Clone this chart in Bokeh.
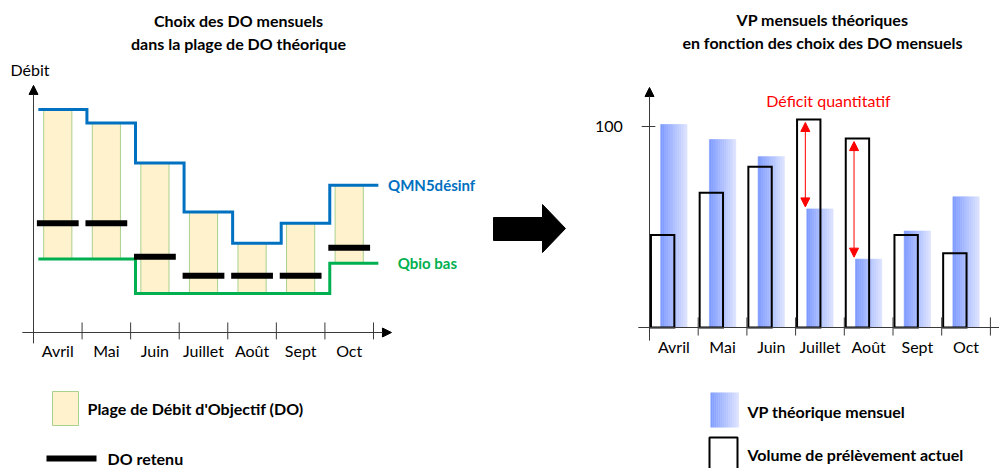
import numpy as np
from bokeh.plotting import figure
from bokeh.models import Range1d, ColumnDataSource, Arrow, NormalHead
from bokeh.core.properties import value
from bokeh.embed import file_html
from bokeh.resources import INLINE

# ---------------- data ----------------
months = ["Avril", "Mai", "Juin", "Juillet", "Août", "Sept", "Oct"]
qmn5_desinf = [100, 94, 76, 54, 40, 49, 66]          # upper bound of DO range
qbio_bas = [33, 33, 17.5, 17.5, 17.5, 17.5, 31]      # lower bound of DO range
do_retenu = [49, 49, 34, 25.5, 25.5, 25.5, 38]       # chosen monthly DO
vp_theorique = [101, 93.5, 85, 59, 34, 48, 65]       # theoretical monthly VP
volume_actuel = [46, 67, 80, 103.5, 94, 46, 37]      # current withdrawal volume
right_y_ticks = [100]
right_y_tick_labels = ["100"]

# ---------------- layout constants ----------------
W, H = 999, 468
OX, OY = 0, 0
L_X0, L_DX, L_Y0, L_DY = 33, 48.57, 332, 2.23     # left chart (page px)
R_X0, R_DX, R_Y0, R_DY = 649, 48.7, 327, 2.01     # right chart (page px)
FONT = value("Lato")

p = figure(width=W, height=H, output_backend="svg", toolbar_location=None,
           x_axis_type=None, y_axis_type=None, min_border=0,
           x_range=Range1d((OX - L_X0) / L_DX, (OX + W - L_X0) / L_DX),
           y_range=Range1d((L_Y0 - (OY + H)) / L_DY, (L_Y0 - OY) / L_DY))
p.outline_line_color = None
p.extra_x_ranges = {"rx": Range1d((OX - R_X0) / R_DX, (OX + W - R_X0) / R_DX),
                    "px": Range1d(OX, OX + W)}
p.extra_y_ranges = {"ry": Range1d((R_Y0 - (OY + H)) / R_DY, (R_Y0 - OY) / R_DY),
                    "px": Range1d(OY + H, OY)}

AX = "#3a3a3a"


def txt(x, y, s, size="16px", bold=False, color="black", align="left"):
    p.text(x=[x], y=[y], text=[s], x_range_name="px", y_range_name="px",
           text_font=FONT, text_font_size=size,
           text_font_style="bold" if bold else "normal",
           text_color=color, text_align=align, text_baseline="middle")


n = len(months)
centers = [i + 0.5 for i in range(n)]

# ================= LEFT CHART =================
p.vbar(x=centers, width=0.58, bottom=qbio_bas, top=qmn5_desinf,
       fill_color="#FFF2CC", line_color="#A9D18E", line_width=1)


def step_points(vals, shift):
    xs, ys = [], []
    for i, v in enumerate(vals):
        xs += [i + shift, i + 1 + shift]
        ys += [v, v]
    return xs, ys


gx, gy = step_points(qbio_bas, 0.1)
p.line(gx, gy, line_color="#00B050", line_width=3, line_join="miter")
bx, by = step_points(qmn5_desinf, 0.1)
p.line(bx, by, line_color="#0070C0", line_width=3, line_join="miter")

p.segment(x0=[c - 0.43 for c in centers], x1=[c + 0.43 for c in centers],
          y0=do_retenu, y1=do_retenu, line_color="black", line_width=6,
          line_cap="butt")

# axes
p.add_layout(Arrow(x_start=0, y_start=-4.9, x_end=0, y_end=110.8,
                   line_color=AX, line_width=1,
                   end=NormalHead(size=9, fill_color="black", line_color="black")))
p.add_layout(Arrow(x_start=-0.23, y_start=0, x_end=7.37, y_end=0,
                   line_color=AX, line_width=1,
                   end=NormalHead(size=9, fill_color="black", line_color="black")))
ticks = list(range(1, n + 1))
p.segment(x0=ticks, x1=ticks, y0=[-3.1] * n, y1=[4.5] * n, line_color=AX, line_width=1)
p.text(x=centers, y=[-8] * n, text=months, text_font=FONT, text_font_size="16px",
       text_align="center", text_baseline="middle", text_color="black")

# labels
p.text(x=[n + 0.3], y=[qmn5_desinf[-1]], text=["QMN5désinf"],
       text_font=FONT, text_font_size="15px", text_font_style="bold",
       text_color="#0070C0", text_align="left", text_baseline="middle")
p.text(x=[n + 0.5], y=[qbio_bas[-1]], text=["Qbio bas"],
       text_font=FONT, text_font_size="15px", text_font_style="bold",
       text_color="#00B050", text_align="left", text_baseline="middle")

txt(238, 20, "Choix des DO mensuels", bold=True, align="center")
txt(238, 43, "dans la plage de DO théorique", bold=True, align="center")
txt(10, 69, "Débit")

# left legend
p.quad(left=[52], right=[78], top=[391], bottom=[425], x_range_name="px",
       y_range_name="px", fill_color="#FFF2CC", line_color="#A9D18E", line_width=1)
txt(87, 408, "Plage de Débit d'Objectif (DO)", bold=True)
p.quad(left=[46], right=[96], top=[455], bottom=[461], x_range_name="px",
       y_range_name="px", fill_color="black", line_color=None)
txt(107, 458, "DO retenu", bold=True)

# ================= MIDDLE ARROW =================
p.patch(x=[493, 542, 542, 565, 542, 542, 493], y=[217, 217, 204, 228, 252, 240, 240],
        x_range_name="px", y_range_name="px", fill_color="black", line_color="black")

# ================= RIGHT CHART =================
c0 = np.array([0x80, 0x9C, 0xFF]) / 255
c1 = np.array([0xDA, 0xE1, 0xFF]) / 255


def grad_color(t):
    c = (1 - t) * c0 + t * c1
    return "#%02x%02x%02x" % tuple(int(round(v * 255)) for v in c)


NS = 14
bw = 0.54
sx, stop, scol = [], [], []
for i, v in enumerate(vp_theorique):
    left = centers[i] - bw / 2
    for j in range(NS):
        sx.append(left + (j + 0.5) * bw / NS)
        stop.append(v)
        scol.append(grad_color(j / (NS - 1)))
p.vbar(x=sx, width=bw / NS, bottom=0, top=stop, fill_color=scol, line_color=scol,
       line_width=0.6, x_range_name="rx", y_range_name="ry")

p.vbar(x=[c - 0.23 for c in centers], width=0.48, bottom=0, top=volume_actuel,
       fill_color=None, line_color="black", line_width=2, line_join="miter",
       x_range_name="rx", y_range_name="ry")

# deficit arrows where current volume exceeds theoretical VP
dx, dy0, dy1 = [], [], []
for i in range(n):
    if volume_actuel[i] > vp_theorique[i] + 20:
        dx.append(centers[i] - 0.3)
        dy0.append(vp_theorique[i] + 1)
        dy1.append(volume_actuel[i] - 1.5)
dsrc = ColumnDataSource(dict(x=dx, y0=dy0, y1=dy1))
p.add_layout(Arrow(x_start="x", y_start="y0", x_end="x", y_end="y1", source=dsrc,
                   line_color="red", line_width=1,
                   start=NormalHead(size=9, fill_color="red", line_color="red"),
                   end=NormalHead(size=9, fill_color="red", line_color="red"),
                   x_range_name="rx", y_range_name="ry"))
txt(828, 100, "Déficit quantitatif", color="red", align="center")

# axes
p.add_layout(Arrow(x_start=0, y_start=-6.5, x_end=0, y_end=119.4,
                   line_color=AX, line_width=1,
                   end=NormalHead(size=9, fill_color="black", line_color="black"),
                   x_range_name="rx", y_range_name="ry"))
p.segment(x0=[-0.23], x1=[7.3], y0=[0], y1=[0], line_color=AX, line_width=1,
          x_range_name="rx", y_range_name="ry")
p.segment(x0=ticks, x1=ticks, y0=[-4] * n, y1=[5] * n, line_color=AX, line_width=1,
          x_range_name="rx", y_range_name="ry")
p.segment(x0=[-0.16] * len(right_y_ticks), x1=[0.12] * len(right_y_ticks),
          y0=right_y_ticks, y1=right_y_ticks, line_color=AX, line_width=1,
          x_range_name="rx", y_range_name="ry")
p.text(x=[-0.55] * len(right_y_ticks), y=right_y_ticks, text=right_y_tick_labels,
       text_font=FONT, text_font_size="16px", text_align="right",
       text_baseline="middle", text_color="black", x_range_name="rx", y_range_name="ry")
p.text(x=centers, y=[-9.5] * n, text=months, text_font=FONT, text_font_size="16px",
       text_align="center", text_baseline="middle", text_color="black",
       x_range_name="rx", y_range_name="ry")

txt(822, 19, "VP mensuels théoriques", bold=True, align="center")
txt(822, 42, "en fonction des choix des DO mensuels", bold=True, align="center")

# right legend
lx0, lx1 = 710, 738
for j in range(NS):
    a = lx0 + j * (lx1 - lx0) / NS
    b = lx0 + (j + 1) * (lx1 - lx0) / NS
    col = grad_color(j / (NS - 1))
    p.quad(left=[a], right=[b + 0.3], top=[392], bottom=[427], x_range_name="px",
           y_range_name="px", fill_color=col, line_color=None)
txt(747, 411, "VP théorique mensuel", bold=True)
p.quad(left=[709], right=[737], top=[437], bottom=[485], x_range_name="px",
       y_range_name="px", fill_color=None, line_color="black", line_width=2)
txt(747, 454, "Volume de prélèvement actuel", bold=True)

open("out.html", "w").write(file_html(p, INLINE))
